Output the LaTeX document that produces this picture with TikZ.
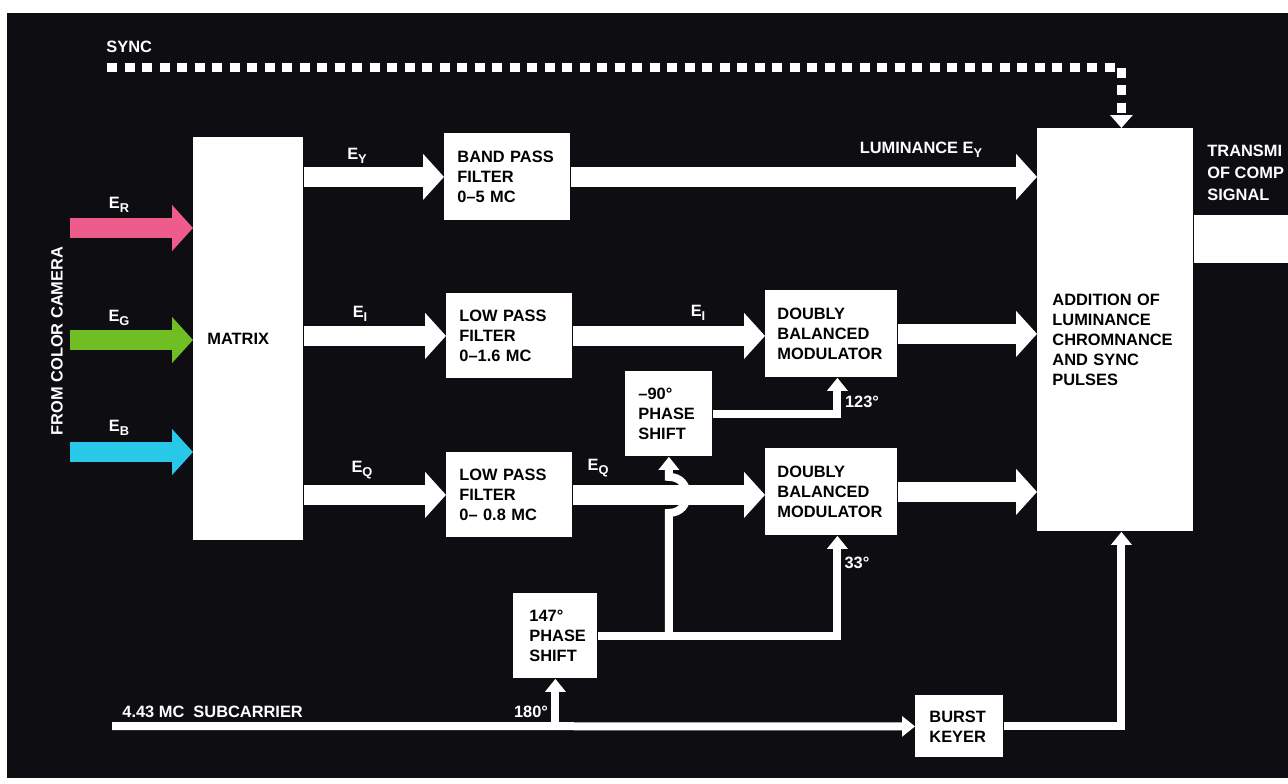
\documentclass[tikz,border=0pt]{standalone}
\usepackage{fontspec}
\setmainfont{Liberation Sans}
\usepackage{xcolor}
\definecolor{bgblack}{RGB}{14,14,18}
\definecolor{redin}{RGB}{238,92,140}
\definecolor{greenin}{RGB}{112,190,36}
\definecolor{bluein}{RGB}{40,200,232}
\usepackage{tikz}
\usetikzlibrary{arrows.meta, positioning, calc}
\newcommand{\boxfont}{\fontsize{8.2}{10}\selectfont\bfseries}
\newcommand{\esub}[1]{\raisebox{-0.45ex}{\fontsize{6.4}{6.4}\selectfont #1}}
\tikzset{
  blk/.style={fill=white, text=black, anchor=north west, inner sep=0pt,
              align=left, font=\boxfont},
  lbl/.style={text=white, inner sep=0pt, font=\boxfont},
  bigarrow/.style={draw=white, line width=10pt, -{Triangle[width=22.5pt,length=10.5pt]}},
  thinarrow/.style={draw=white, line width=4pt, line join=miter,
                    -{Triangle[width=10pt,length=6.5pt]}},
  syncline/.style={draw=white, line width=4.5pt, dash pattern=on 5pt off 3.75pt,
                   -{Triangle[width=11pt,length=6.5pt]}},
}

\begin{document}
\begin{tikzpicture}[x=0.5pt, y=-0.5pt]
      \useasboundingbox (0,0) rectangle (1288,783);
      \fill[white] (0,0) rectangle (1288,783);
      \fill[bgblack] (7,13) rectangle (1288,778);
      % Matrix and filters
      \node[blk, minimum width=55pt, minimum height=201.5pt, text width=41pt]
            (matrix) at (193,137) {MATRIX};
      \node[blk, minimum width=63pt, minimum height=43.5pt, text width=50pt]
            (bpf) at (444,133) {BAND~PASS\\FILTER\\0–5~MC};
      \node[blk, minimum width=63pt, minimum height=42.5pt, text width=50pt]
            (lpfi) at (446,293) {LOW~PASS\\FILTER\\0–1.6~MC};
      \node[blk, minimum width=63pt, minimum height=42.5pt, text width=50pt]
            (lpfq) at (446,452) {LOW~PASS\\FILTER\\0–~0.8~MC};
      % Modulators and phase shifters
      \node[blk, minimum width=66pt, minimum height=43.5pt, text width=54pt]
            (dbmi) at (765,290) {DOUBLY\\BALANCED\\MODULATOR};
      \node[blk, minimum width=66pt, minimum height=43.5pt, text width=54pt]
            (dbmq) at (765,448) {DOUBLY\\BALANCED\\MODULATOR};
      \node[blk, minimum width=43.5pt, minimum height=42.5pt, text width=30.5pt]
            (ps90) at (625,371) {–90°\\PHASE\\SHIFT};
      \node[blk, minimum width=42pt, minimum height=42.5pt, text width=26pt]
            (ps147) at (513,593) {147°\\PHASE\\SHIFT};
      \node[blk, minimum width=44pt, minimum height=31pt, text width=30pt]
            (burst) at (915,695) {BURST\\KEYER};
      % Adder at right
      \node[blk, minimum width=78pt, minimum height=201.5pt, text width=63pt]
            (adder) at (1037,128) {\rule{0pt}{16pt}ADDITION~OF\\LUMINANCE\\CHROMNANCE\\AND~SYNC\\PULSES};
      % Camera inputs
      \coordinate (inR) at (70,228);
      \coordinate (inG) at (70,340);
      \coordinate (inB) at (70,452);
      \draw[bigarrow, draw=redin]   (inR) -- (matrix.west |- inR);
      \draw[bigarrow, draw=greenin] (inG) -- (matrix.west |- inG);
      \draw[bigarrow, draw=bluein]  (inB) -- (matrix.west |- inB);
      \node[lbl] (lblR) at (119,205) {E\esub{R}};
      \node[lbl] (lblG) at (119,318) {E\esub{G}};
      \node[lbl] (lblB) at (119,428) {E\esub{B}};
      \node[lbl, rotate=90] (cam) at (57,341) {FROM COLOR CAMERA};
      % Signal paths
      \draw[bigarrow] (matrix.east |- bpf.west) -- (bpf.west);
      \draw[bigarrow] (bpf.east) -- (adder.west |- bpf.east);
      \draw[bigarrow] (matrix.east |- lpfi.west) -- (lpfi.west);
      \draw[bigarrow] (lpfi.east) -- (dbmi.west |- lpfi.east);
      \draw[bigarrow] (matrix.east |- lpfq.west) -- (lpfq.west);
      \draw[bigarrow] (lpfq.east) -- (dbmq.west |- lpfq.east);
      \draw[bigarrow] (dbmi.east) -- (adder.west |- dbmi.east);
      \draw[bigarrow] (dbmq.east) -- (adder.west |- dbmq.east);
      \node[lbl] (lblY) at (357,156) {E\esub{Y}};
      \node[lbl] (lblI) at (360,314) {E\esub{I}};
      \node[lbl] (lblQ) at (362,470) {E\esub{Q}};
      \node[lbl] (lblI2) at (698,313) {E\esub{I}};
      \node[lbl] (lblQ2) at (598,468) {E\esub{Q}};
      \node[lbl] (lum) at (921,150) {LUMINANCE E\esub{Y}};
      % Subcarrier and phase network
      \coordinate (subL) at (112,726);
      \draw[thinarrow] (subL) -- (burst.west);
      \draw[thinarrow] (ps147.south |- subL) -- (ps147.south);
      \coordinate (jq) at (ps90.south |- ps147.east);
      \draw[thinarrow] (jq) -- ($(jq |- lpfq.east)+(0,18)$)
            .. controls +(24,0) and +(24,0) .. ($(jq |- lpfq.east)+(0,-18)$)
            -- (ps90.south);
      \draw[thinarrow] (ps147.east) -| ([xshift=3pt]dbmq.south);
      \draw[thinarrow] (ps90.east) -| ([xshift=3pt]dbmi.south);
      \draw[thinarrow] (burst.east) -| ([xshift=3pt]adder.south);
      \node[lbl] (deg123) at (862,402) {123°};
      \node[lbl] (deg33) at (857,563) {33°};
      \node[lbl] (deg180) at (531,712) {180°};
      \node[lbl, anchor=west] (sublbl) at (122,712) {4.43~MC~~SUBCARRIER};
      % Sync pulses
      \coordinate (syncL) at (107,67);
      \draw[syncline] (syncL) -| ([xshift=3pt]adder.north);
      \node[lbl, anchor=west] (synclbl) at (106,47) {SYNC};
      % Output
      \coordinate (txend) at (1288,239);
      \draw[white, line width=24pt] (adder.east |- txend) -- (txend);
      \node[lbl, anchor=north west, align=left, font=\fontsize{8.2}{11}\selectfont\bfseries]
            (txlbl) at (1207,145) {TRANSMI\\OF~COMP\\SIGNAL};
    \end{tikzpicture}
\end{document}
